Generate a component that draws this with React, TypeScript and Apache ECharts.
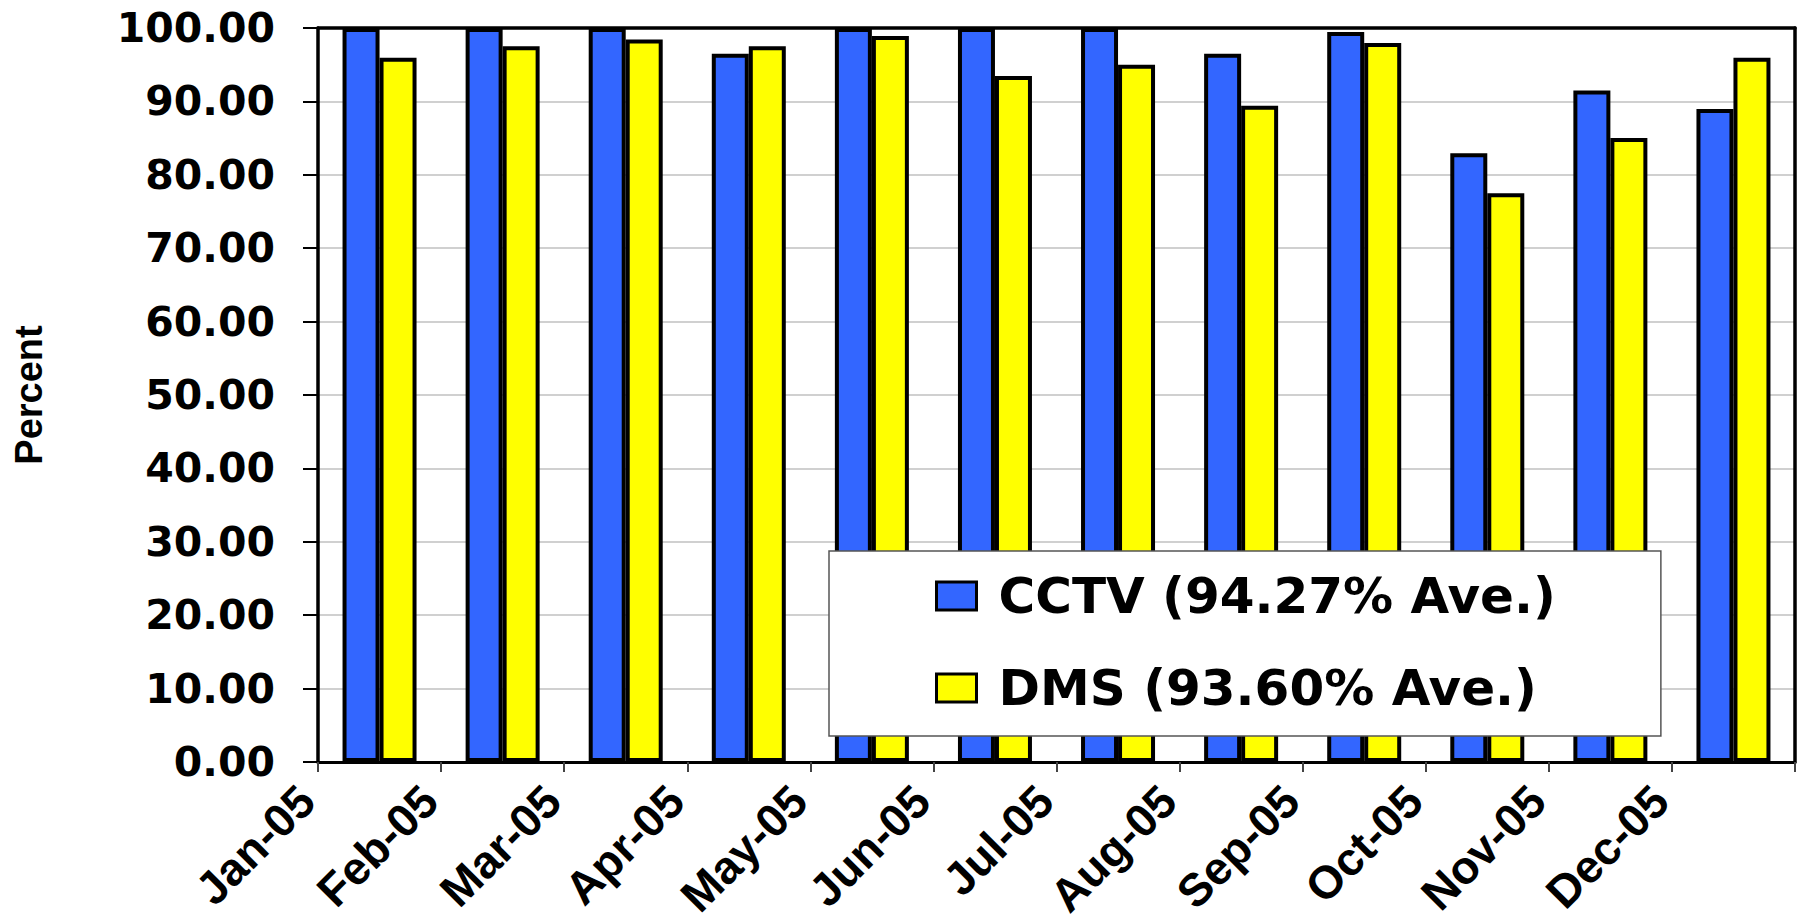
import React, { useEffect, useRef } from "react";
import * as echarts from "echarts";

const months = ["Jan-05", "Feb-05", "Mar-05", "Apr-05", "May-05", "Jun-05", "Jul-05", "Aug-05", "Sep-05", "Oct-05", "Nov-05", "Dec-05"];
const cctvName = "CCTV (94.27% Ave.)";
const dmsName = "DMS (93.60% Ave.)";
const cctvValues = [100, 100, 100, 96.5, 100, 100, 100, 96.5, 99.45, 82.95, 91.5, 88.95];
const dmsValues = [95.95, 97.5, 98.45, 97.5, 98.9, 93.45, 95.0, 89.4, 97.95, 77.5, 85.0, 95.95];
const yTickMin = 0;
const yTickMax = 100;
const yTickStep = 10;
const yTitle = "Percent";

export default function App() {
  const ref = useRef<HTMLDivElement>(null);
  useEffect(() => {
    if (!ref.current) return;
    const chart = echarts.init(ref.current, null, { renderer: "svg" });
    const boundaryLabels = [...months, ""];
    chart.setOption({
      animation: false,
      backgroundColor: "#fff",
      grid: {
        left: 318,
        right: 3,
        top: 28,
        bottom: 161,
        show: false,
      },
      legend: {
        orient: "vertical",
        left: 829,
        top: 551,
        data: [cctvName, dmsName],
        icon: "rect",
        itemWidth: 40,
        itemHeight: 28,
        itemGap: 42,
        padding: [20, 105, 23, 106],
        backgroundColor: "#fff",
        borderColor: "#555",
        borderWidth: 1.5,
        itemStyle: { borderColor: "#000", borderWidth: 3 },
        formatter: (name: string) => `{t|${name}}`,
        textStyle: {
          fontFamily: "DejaVu Sans",
          fontWeight: "bold",
          fontSize: 50,
          lineHeight: 50,
          color: "#000",
          rich: {
            t: {
              fontFamily: "DejaVu Sans",
              fontWeight: "bold",
              fontSize: 50,
              lineHeight: 50,
              color: "#000",
              padding: [0, 0, 0, 17],
            },
          },
        },
      },
      xAxis: [
        {
          type: "category",
          data: months,
          boundaryGap: true,
          axisLine: { show: true, lineStyle: { color: "#000", width: 3 } },
          axisTick: { show: true, length: 10, lineStyle: { color: "#444", width: 2 } },
          axisLabel: { show: false },
          splitLine: { show: false },
          z: 10,
        },
        {
          type: "category",
          data: boundaryLabels,
          boundaryGap: false,
          position: "bottom",
          axisLine: { show: false },
          axisTick: { show: false },
          splitLine: { show: false },
          axisLabel: {
            interval: 0,
            rotate: 45,
            margin: 20,
            padding: [0, 16, 0, 0],
            fontFamily: "Liberation Sans, Arial, sans-serif",
            fontWeight: "bold",
            fontSize: 46,
            color: "#000",
          },
        },
        {
          type: "category",
          data: months,
          position: "top",
          axisLine: { show: true, lineStyle: { color: "#000", width: 3.5 } },
          axisTick: { show: false },
          axisLabel: { show: false },
          splitLine: { show: false },
          z: 10,
        },
      ],
      yAxis: [
        {
          type: "value",
          min: yTickMin,
          max: yTickMax,
          interval: yTickStep,
          name: yTitle,
          nameLocation: "middle",
          nameRotate: 90,
          nameGap: 270,
          nameTextStyle: {
            fontFamily: "Liberation Sans, Arial, sans-serif",
            fontWeight: "bold",
            fontSize: 38,
            color: "#000",
          },
          axisLine: { show: true, lineStyle: { color: "#000", width: 3.5 } },
          axisTick: { show: true, length: 15, lineStyle: { color: "#000", width: 2 } },
          axisLabel: {
            margin: 43,
            formatter: (v: number) => v.toFixed(2),
            fontFamily: "DejaVu Sans",
            fontWeight: "bold",
            fontSize: 41,
            color: "#000",
          },
          splitLine: { show: true, lineStyle: { color: "#c0c0c0", width: 1.5 } },
        },
        {
          type: "value",
          min: yTickMin,
          max: yTickMax,
          interval: yTickStep,
          position: "right",
          axisLine: { show: true, lineStyle: { color: "#000", width: 3.5 } },
          axisTick: { show: false },
          axisLabel: { show: false },
          splitLine: { show: false },
          z: 10,
        },
      ],
      series: [
        {
          name: cctvName,
          type: "bar",
          xAxisIndex: 0,
          yAxisIndex: 0,
          data: cctvValues,
          barWidth: 37,
          barGap: "0%",
          itemStyle: { color: "#3366FF", borderColor: "#000", borderWidth: 4 },
        },
        {
          name: dmsName,
          type: "bar",
          xAxisIndex: 0,
          yAxisIndex: 0,
          data: dmsValues,
          barWidth: 37,
          barGap: "0%",
          itemStyle: { color: "#FFFF00", borderColor: "#000", borderWidth: 4 },
        },
      ],
    });
    return () => chart.dispose();
  }, []);
  return (
    <div
      ref={ref}
      style={{ position: "fixed", left: 0, top: 0, width: 1798, height: 923, background: "#fff" }}
    />
  );
}
